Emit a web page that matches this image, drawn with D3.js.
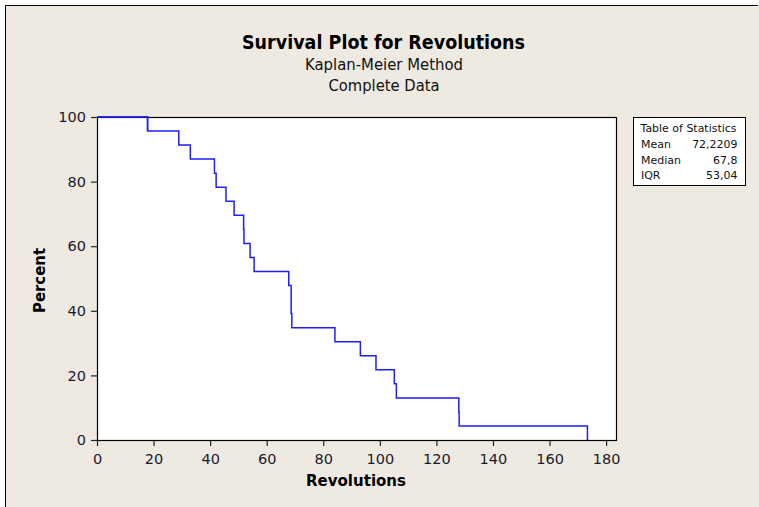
<!DOCTYPE html>
<html><head><meta charset="utf-8">
<script src="https://cdn.jsdelivr.net/npm/d3@7"></script>
<style>body{margin:0;background:#fff}svg{display:block}</style>
</head><body><svg id="c" width="759" height="507"></svg>
<script>
// ---- data ----
const failureTimes = [0, 17.88, 28.92, 33.00, 41.52, 42.12, 45.60, 48.48, 51.84, 51.96, 54.12, 55.56, 67.80, 68.64, 68.88, 84.12, 93.12, 98.64, 105.12, 105.84, 127.92, 128.04, 173.40];
const survivalPct  = [100, 95.65, 91.30, 86.96, 82.61, 78.26, 73.91, 69.57, 65.22, 60.87, 56.52, 52.17, 47.83, 39.13, 34.78, 30.43, 26.09, 21.74, 17.39, 13.04, 8.70, 4.35, 0];
const xTicks = [0, 20, 40, 60, 80, 100, 120, 140, 160, 180];
const yTicks = [0, 20, 40, 60, 80, 100];
const titleText = "Survival Plot for Revolutions";
const subtitleLines = ["Kaplan-Meier Method", "Complete Data"];
const xLabelText = "Revolutions";
const yLabelText = "Percent";
const statsHeader = "Table of Statistics";
const statLabels = ["Mean", "Median", "IQR"];
const statValues = ["72,2209", "67,8", "53,04"];

// ---- layout ----
const svg = d3.select("#c");
const FONT = "'DejaVu Sans', Verdana, sans-serif";
const plot = {left: 97, right: 616, top: 117, bottom: 440};

// set a text to a given width by compressing glyphs horizontally (Tahoma-like narrowness)
function squeeze(sel, w) {
  sel.attr("textLength", w).attr("lengthAdjust", "spacingAndGlyphs");
  return sel;
}
function natural(sel) { return sel.node().getComputedTextLength(); }

// background frame
svg.append("rect").attr("x", 5).attr("y", 5).attr("width", 760).attr("height", 520).attr("fill", "#EEEAE1");
svg.append("path").attr("d", "M5.5,507 L5.5,5.5 L758,5.5").attr("fill", "none").attr("stroke", "#000").attr("stroke-width", 1);

const x = d3.scaleLinear().domain([0, 183.5]).range([plot.left, plot.right]);
const y = d3.scaleLinear().domain([0, 100]).range([plot.bottom, plot.top]);

// plot area
svg.append("rect").attr("x", plot.left + 0.5).attr("y", plot.top + 0.5)
  .attr("width", plot.right - plot.left).attr("height", plot.bottom - plot.top)
  .attr("fill", "#fff").attr("stroke", "none");

// axes
const xAxis = svg.append("g").attr("transform", `translate(0,${plot.bottom})`)
  .call(d3.axisBottom(x).tickValues(xTicks).tickSize(6).tickPadding(8).tickSizeOuter(0));
const yAxis = svg.append("g").attr("transform", `translate(${plot.left},0)`)
  .call(d3.axisLeft(y).tickValues(yTicks).tickSize(6).tickPadding(5).tickSizeOuter(0));
[xAxis, yAxis].forEach(g => {
  g.select(".domain").remove();
  g.selectAll(".tick line").attr("stroke", "#222").attr("stroke-width", 1.2);
  g.selectAll(".tick text").attr("fill", "#1a1a2e").attr("font-family", FONT).attr("font-size", 14.5);
});

// survival curve
const pts = failureTimes.map((t, i) => [t, survivalPct[i]]);
const line = d3.line().x(d => x(d[0])).y(d => y(d[1])).curve(d3.curveStepAfter);
svg.append("path").datum(pts).attr("d", line)
  .attr("fill", "none").attr("stroke", "#1f1fff").attr("stroke-width", 1.5);

// frame
svg.append("rect").attr("x", plot.left + 0.5).attr("y", plot.top + 0.5)
  .attr("width", plot.right - plot.left).attr("height", plot.bottom - plot.top)
  .attr("fill", "none").attr("stroke", "#000").attr("stroke-width", 1.2);
svg.append("path").datum(pts.slice(0, 2)).attr("d", line)
  .attr("fill", "none").attr("stroke", "#1f1fff").attr("stroke-width", 1.5);

// titles
squeeze(svg.append("text").attr("x", 383.5).attr("y", 48.5).attr("text-anchor", "middle")
  .attr("font-family", FONT).attr("font-weight", "bold").attr("font-size", 20)
  .attr("fill", "#000").text(titleText), 283);
const subW = [158, 111], subY = [70, 91];
subtitleLines.forEach((s, i) => {
  squeeze(svg.append("text").attr("x", 384).attr("y", subY[i]).attr("text-anchor", "middle")
    .attr("font-family", FONT).attr("font-size", 15).attr("fill", "#111").text(s), subW[i]);
});

// axis labels
squeeze(svg.append("text").attr("x", 356).attr("y", 485.5).attr("text-anchor", "middle")
  .attr("font-family", FONT).attr("font-weight", "bold").attr("font-size", 16.5)
  .attr("fill", "#000").text(xLabelText), 100);
squeeze(svg.append("text").attr("transform", "translate(45,280.5) rotate(-90)").attr("text-anchor", "middle")
  .attr("font-family", FONT).attr("font-weight", "bold").attr("font-size", 16.5)
  .attr("fill", "#000").text(yLabelText), 65);

// statistics table
svg.append("rect").attr("x", 633.5).attr("y", 117.5).attr("width", 112).attr("height", 68)
  .attr("fill", "#fff").attr("stroke", "#000").attr("stroke-width", 1);
const TFS = 11;
const hdr = svg.append("text").attr("x", 640.5).attr("y", 131.5)
  .attr("font-family", FONT).attr("font-size", TFS).attr("fill", "#111").text(statsHeader);
const ratio = 96 / natural(hdr);
squeeze(hdr, 96);
const rowY = [147.5, 163.5, 179.3];
statLabels.forEach((s, i) => {
  const a = svg.append("text").attr("x", 641).attr("y", rowY[i]).attr("font-family", FONT)
    .attr("font-size", TFS).attr("fill", "#111").text(s);
  squeeze(a, natural(a) * ratio);
  const b = svg.append("text").attr("x", 737.5).attr("y", rowY[i]).attr("text-anchor", "end")
    .attr("font-family", FONT).attr("font-size", TFS).attr("fill", "#111").text(statValues[i]);
  squeeze(b, natural(b) * ratio);
});
</script></body></html>
